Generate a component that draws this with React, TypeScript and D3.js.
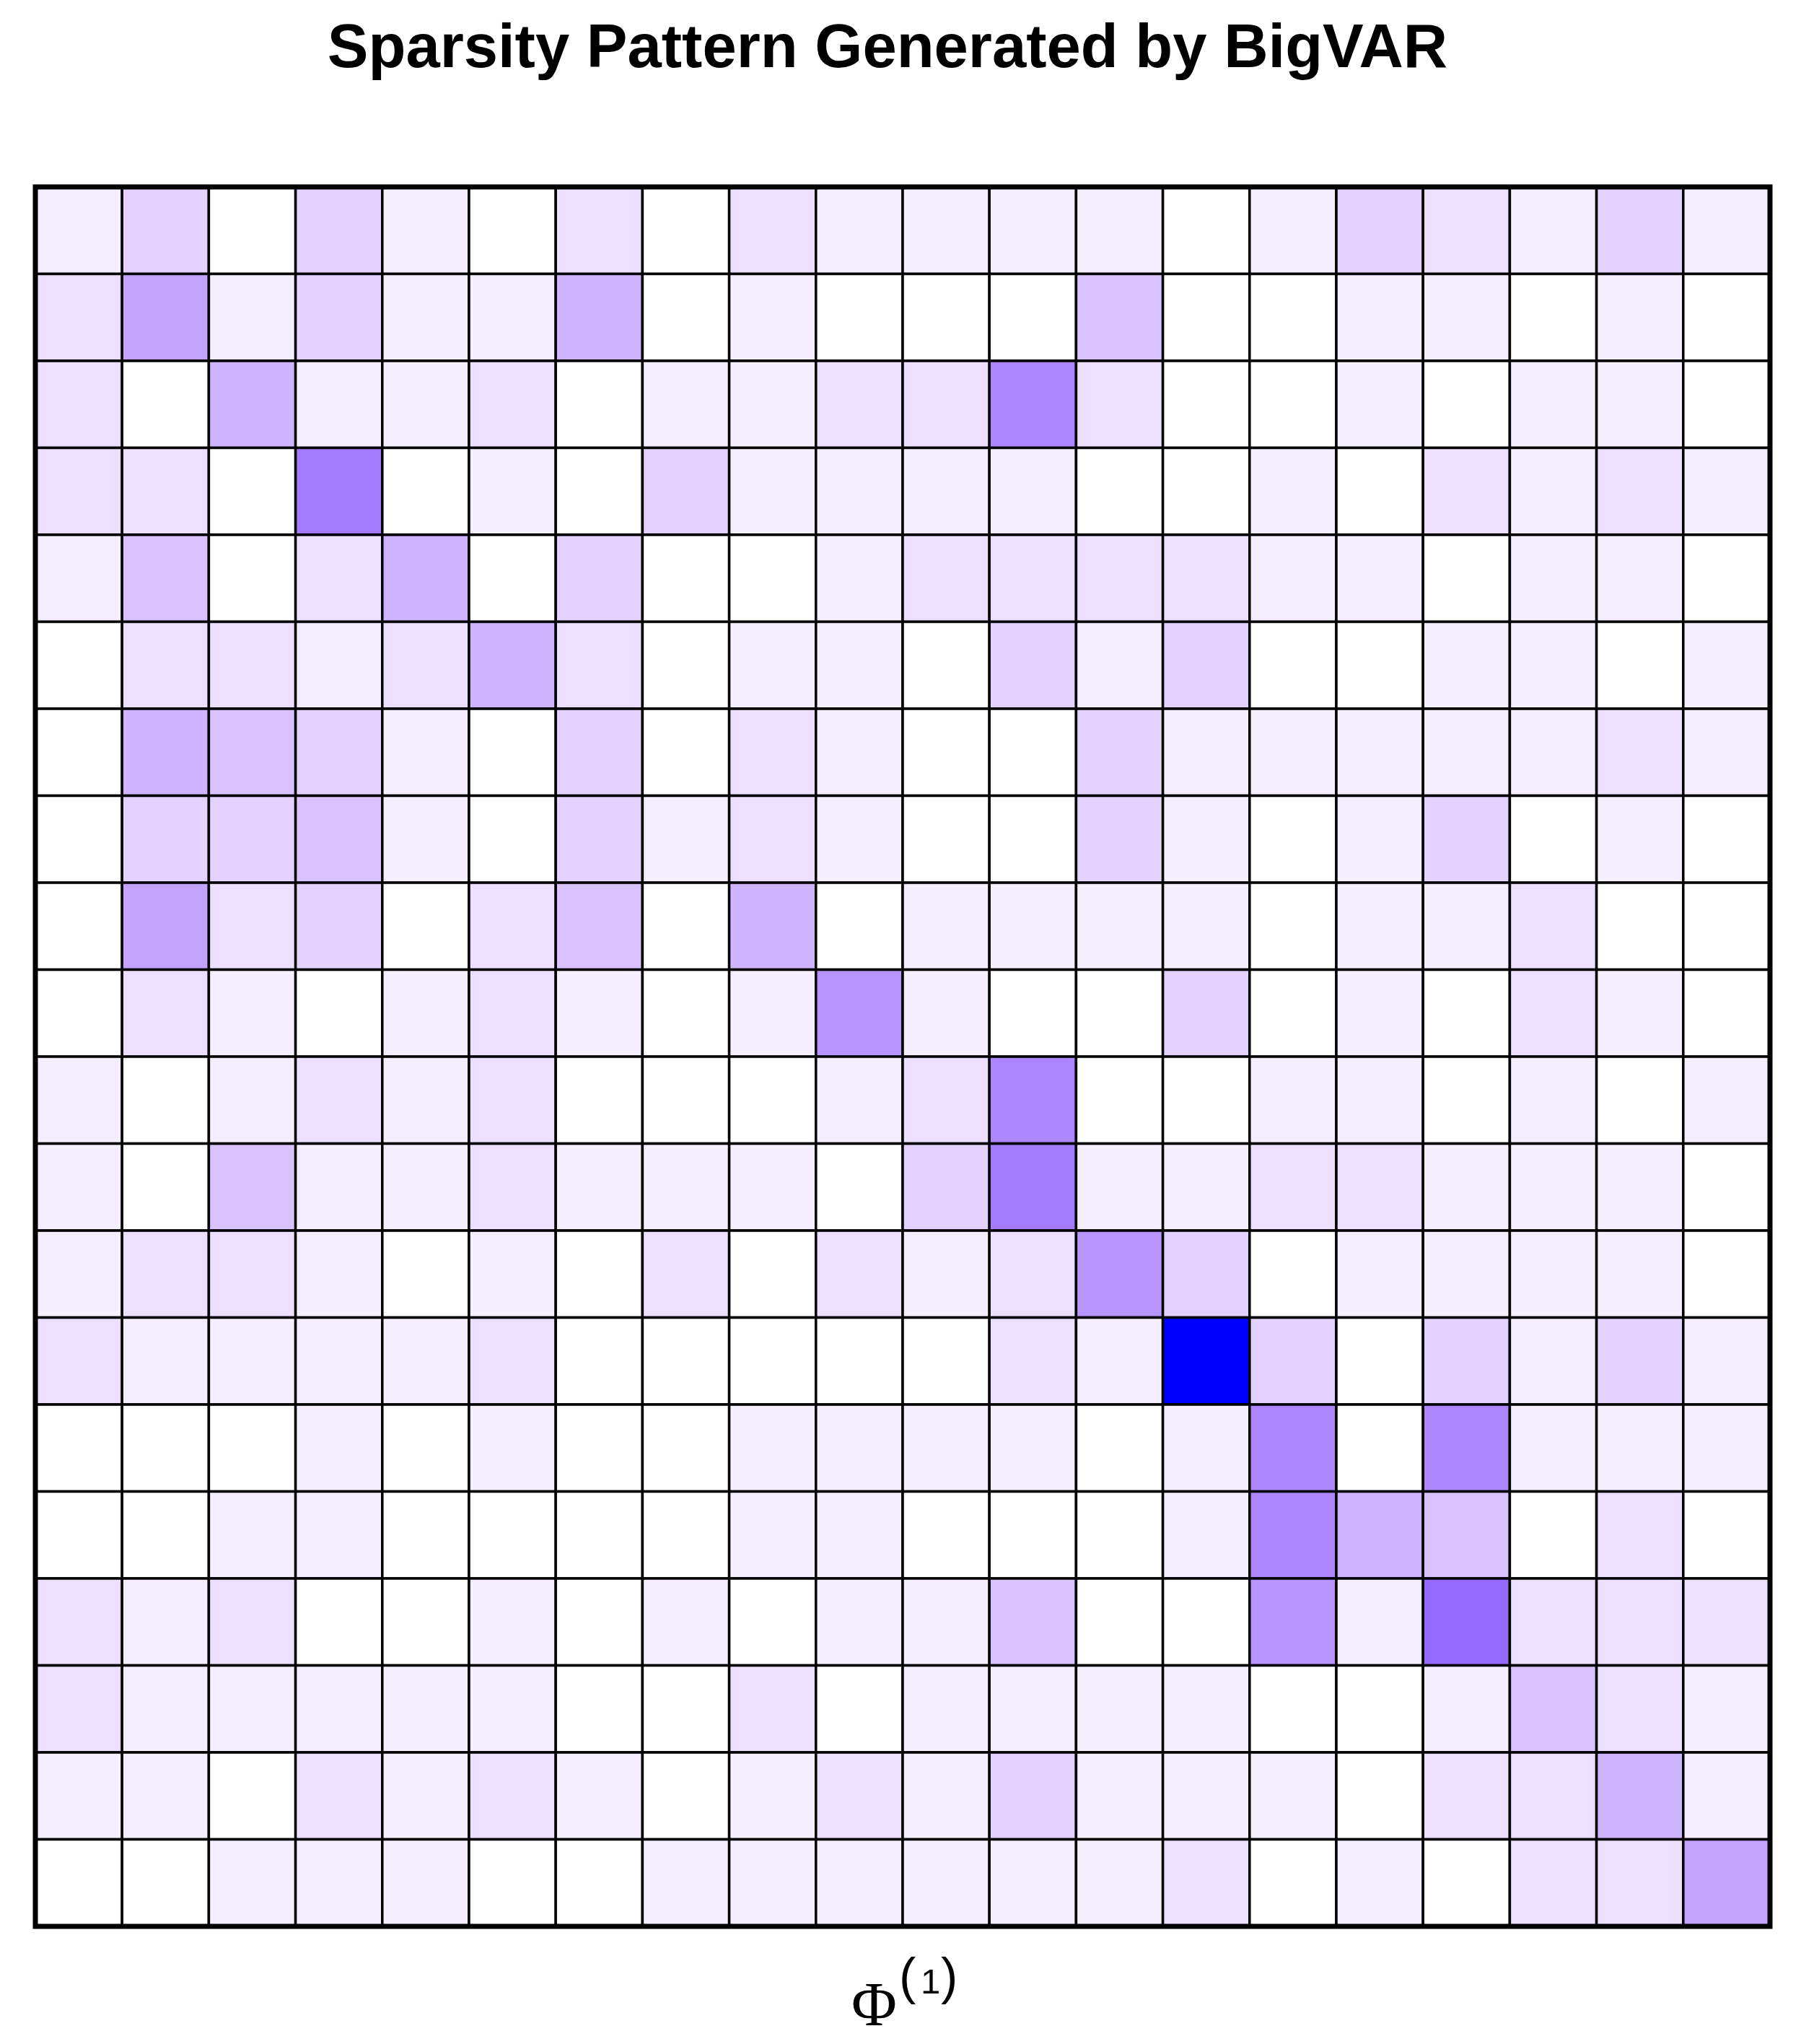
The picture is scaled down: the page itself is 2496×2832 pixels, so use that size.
import React from "react";
import * as d3 from "d3";

// Intensity level of each coefficient (0 = zero, higher = larger magnitude), row by row
const rows: number[][] = [
  [1, 3, 0, 3, 1, 0, 2, 0, 2, 1, 1, 1, 1, 0, 1, 3, 2, 1, 3, 1],
  [2, 6, 1, 3, 1, 1, 5, 0, 1, 0, 0, 0, 4, 0, 0, 1, 1, 0, 1, 0],
  [2, 0, 5, 1, 1, 2, 0, 1, 1, 2, 2, 8, 2, 0, 0, 1, 0, 1, 1, 0],
  [2, 2, 0, 9, 0, 1, 0, 3, 1, 1, 1, 1, 0, 0, 1, 0, 2, 1, 2, 1],
  [1, 4, 0, 2, 5, 0, 3, 0, 0, 1, 2, 2, 2, 2, 1, 1, 0, 1, 1, 0],
  [0, 2, 2, 1, 2, 5, 2, 0, 1, 1, 0, 3, 1, 3, 0, 0, 1, 1, 0, 1],
  [0, 5, 4, 3, 1, 0, 3, 0, 2, 1, 0, 0, 3, 1, 1, 1, 1, 1, 2, 1],
  [0, 3, 3, 4, 1, 0, 3, 1, 2, 1, 0, 0, 3, 1, 0, 1, 3, 0, 1, 0],
  [0, 6, 2, 3, 0, 2, 4, 0, 5, 0, 1, 1, 1, 1, 0, 1, 1, 2, 0, 0],
  [0, 2, 1, 0, 1, 2, 1, 0, 1, 7, 1, 0, 0, 3, 0, 1, 0, 2, 1, 0],
  [1, 0, 1, 2, 1, 2, 0, 0, 0, 1, 2, 8, 0, 0, 1, 1, 0, 1, 0, 1],
  [1, 0, 4, 1, 1, 2, 1, 1, 1, 0, 3, 9, 1, 1, 2, 2, 1, 1, 1, 0],
  [1, 2, 2, 1, 0, 1, 0, 2, 0, 2, 1, 2, 7, 3, 0, 1, 1, 1, 1, 0],
  [2, 1, 1, 1, 1, 2, 0, 0, 0, 0, 0, 2, 1, 11, 3, 0, 3, 1, 3, 1],
  [0, 0, 0, 1, 0, 1, 0, 0, 1, 1, 1, 1, 0, 1, 8, 0, 8, 1, 1, 1],
  [0, 0, 1, 1, 0, 0, 0, 0, 1, 1, 0, 0, 0, 1, 8, 5, 4, 0, 2, 0],
  [2, 1, 2, 0, 0, 1, 0, 1, 0, 1, 1, 4, 0, 0, 7, 1, 10, 2, 2, 2],
  [2, 1, 1, 1, 1, 1, 0, 0, 2, 0, 1, 1, 1, 1, 0, 0, 1, 4, 2, 1],
  [1, 1, 0, 2, 1, 2, 1, 0, 1, 2, 1, 3, 1, 1, 1, 0, 2, 2, 5, 1],
  [0, 0, 1, 1, 1, 0, 0, 1, 1, 1, 1, 1, 1, 2, 0, 1, 0, 2, 2, 6],
];

const levels = [0, 1, 2, 3, 4, 5, 6, 7, 8, 9, 10, 11];
const palette = [
  "#FFFFFF", "#F5EEFF", "#EDDFFF", "#E3D1FF", "#D8C2FF", "#CEB3FF",
  "#C4A2FF", "#B894FF", "#AD86FF", "#A27BFF", "#976AFF", "#0000FF",
];

const title = "Sparsity Pattern Generated by BigVAR";

export default function App() {
  const W = 2496, H = 2832;
  const n = rows.length;
  const idx = d3.range(n);
  const x = d3.scaleBand<number>().domain(idx).range([49, 2453]).padding(0);
  const y = d3.scaleBand<number>().domain(idx).range([259, 2669]).padding(0);
  const color = d3.scaleOrdinal<number, string>().domain(levels).range(palette);

  const cells: { r: number; c: number; v: number }[] = [];
  rows.forEach((row, r) => row.forEach((v, c) => cells.push({ r, c, v })));

  return (
    <svg width={W} height={H} style={{ position: "absolute", left: 0, top: 0, background: "#fff" }}>
      <rect x={0} y={0} width={W} height={H} fill="#fff" />
      <text x={1230} y={93} textAnchor="middle" fontFamily="'Liberation Sans', Arial, sans-serif"
        fontWeight="bold" fontSize={85} fill="#000">{title}</text>
      <g>
        {cells.map((d) => (
          <rect key={`${d.r}-${d.c}`} x={x(d.c)} y={y(d.r)} width={x.bandwidth()} height={y.bandwidth()}
            fill={color(d.v)} stroke="#000" strokeWidth={3.5} />
        ))}
      </g>
      <rect x={49} y={259} width={2404} height={2410} fill="none" stroke="#000" strokeWidth={7} />
      <text x={1180} y={2806} fontFamily="'Liberation Serif', 'Times New Roman', serif" fontSize={86} fill="#000">Φ</text>
      <text x={1246} y={2762} fontFamily="'Liberation Sans', Arial, sans-serif" fontSize={70} fill="#000">(</text>
      <text x={1276} y={2762} fontFamily="'Liberation Sans', Arial, sans-serif" fontSize={49} fill="#000">1</text>
      <text x={1304} y={2762} fontFamily="'Liberation Sans', Arial, sans-serif" fontSize={70} fill="#000">)</text>
    </svg>
  );
}
